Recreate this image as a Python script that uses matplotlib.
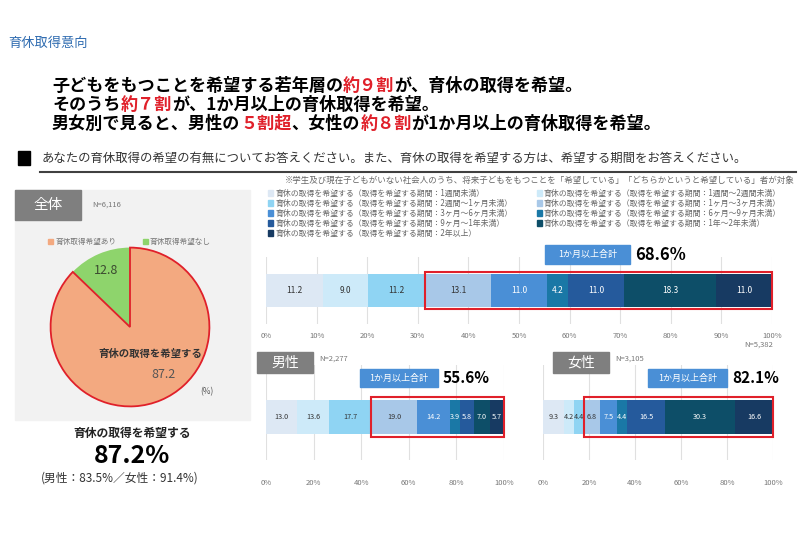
import numpy as np
import matplotlib
matplotlib.use('Agg')
import matplotlib.pyplot as plt
from matplotlib.patches import Rectangle

plt.rcParams['font.family'] = ['Noto Sans CJK JP', 'DejaVu Sans']

# ---- data ----
periods = ['1週間未満', '1週間～2週間未満', '2週間～1ヶ月未満', '1ヶ月～3ヶ月未満',
           '3ヶ月～6ヶ月未満', '6ヶ月～9ヶ月未満', '9ヶ月～1年未満', '1年～2年未満', '2年以上']
total_vals = [11.2, 9.0, 11.2, 13.1, 11.0, 4.2, 11.0, 18.3, 11.0]
male_vals = [13.0, 13.6, 17.7, 19.0, 14.2, 3.9, 5.8, 7.0, 5.7]
female_vals = [9.3, 4.2, 4.4, 6.8, 7.5, 4.4, 16.5, 30.3, 16.6]
over_1m = {'total': '68.6%', 'male': '55.6%', 'female': '82.1%'}
n_total, n_male, n_female, n_all = 'N=5,382', 'N=2,277', 'N=3,105', 'N=6,116'

pie_labels = ['育休取得希望なし', '育休取得希望あり']
pie_vals = [12.8, 87.2]

colors = ['#dde8f4', '#cdeaf9', '#8fd4f3', '#a8c8e8', '#4a8fd6',
          '#1a78a6', '#255a9c', '#0d4e68', '#173a62']
text_colors = ['#333333'] * 4 + ['white'] * 5
pie_colors = ['#8ed46c', '#f3a980']
box_blue = '#4a8fd6'
red = '#e0202a'

W, H = 800, 544
fig = plt.figure(figsize=(8, 5.44), dpi=100)
renderer = fig.canvas.get_renderer()


def fx(x):
    return x / W


def fy(y):
    return 1 - y / H


def rect_px(x0, y0, x1, y1, **kw):
    fig.patches.append(Rectangle((fx(x0), fy(y1)), (x1 - x0) / W, (y1 - y0) / H,
                                 transform=fig.transFigure, figure=fig, **kw))


def rich(x, y, parts, size):
    for s, c in parts:
        t = fig.text(fx(x), fy(y), s, fontsize=size, color=c, fontweight='bold', va='center')
        x += t.get_window_extent(renderer).width


# ---- header ----
fig.text(fx(8), fy(43), '育休取得意向', fontsize=9.5, color='#2e6bb0', va='center')
rich(52, 86, [('子どもをもつことを希望する若年層の', 'black'), ('約９割', red),
              ('が、育休の取得を希望。', 'black')], 12.3)
rich(52, 105, [('そのうち', 'black'), ('約７割', red),
               ('が、1か月以上の育休取得を希望。', 'black')], 12.3)
rich(52, 124, [('男女別で見ると、男性の', 'black'), ('５割超', red), ('、女性の', 'black'),
               ('約８割', red), ('が1か月以上の育休取得を希望。', 'black')], 12.3)

rect_px(18, 151, 30, 165, color='black')
fig.text(fx(42), fy(158), 'あなたの育休取得の希望の有無についてお答えください。また、育休の取得を希望する方は、希望する期間をお答えください。',
         fontsize=8.9, color='#333333', va='center')
fig.add_artist(plt.Line2D([fx(40), fx(796)], [fy(172), fy(172)], color='#404040', lw=1.5))
fig.text(fx(795), fy(180), '※学生及び現在子どもがいない社会人のうち、将来子どもをもつことを「希望している」「どちらかというと希望している」者が対象',
         fontsize=6.1, color='#666666', va='center', ha='right')

# ---- left panel: pie ----
rect_px(15, 190, 250, 420, color='#f2f2f2', zorder=-2)
rect_px(15, 190, 81, 220, color='#7f7f7f', zorder=-1)
fig.text(fx(48), fy(205), '全体', fontsize=10.5, color='white', ha='center', va='center')
fig.text(fx(92), fy(205), n_all, fontsize=5.5, color='#777777', va='center')
for xs, lab, c in [(48, pie_labels[1], pie_colors[1]), (143, pie_labels[0], pie_colors[0])]:
    rect_px(xs, 239, xs + 5, 244, color=c, zorder=-1)
    fig.text(fx(xs + 7), fy(242), lab, fontsize=5.5, color='#777777', va='center')

pax = fig.add_axes([fx(49), fy(408), 162 / W, 162 / H])
wedges, _ = pax.pie(pie_vals, colors=pie_colors, startangle=90, counterclock=True)
wedges[1].set_edgecolor(red)
wedges[1].set_linewidth(1.3)
pax.set_xlim(-1.02, 1.02)
pax.set_ylim(-1.02, 1.02)
pax.set_aspect('equal')
pax.axis('off')
fig.text(fx(106), fy(270), f'{pie_vals[0]:.1f}', fontsize=9, color='#3b4a30', ha='center', va='center')
fig.text(fx(150), fy(354), '育休の取得を希望する', fontsize=7.5, fontweight='bold', color='#333333',
         ha='center', va='center')
fig.text(fx(163), fy(374), f'{pie_vals[1]:.1f}', fontsize=9, color='#555555', ha='center', va='center')
fig.text(fx(207), fy(392), '(%)', fontsize=6, color='#555555', ha='center', va='center')

fig.text(fx(132), fy(433), '育休の取得を希望する', fontsize=8.5, fontweight='bold', color='#222222',
         ha='center', va='center')
fig.text(fx(132), fy(456), f'{pie_vals[1]:.1f}%', fontsize=18, fontweight='bold', color='black',
         ha='center', va='center')
fig.text(fx(120), fy(478), '(男性：83.5%／女性：91.4%)', fontsize=8.5, color='#333333',
         ha='center', va='center')

# ---- legend ----
leg_order = [0, 2, 4, 6, 8, 1, 3, 5, 7]
for k, i in enumerate(leg_order):
    col, row = (0, k) if k < 5 else (1, k - 5)
    x0 = 268 if col == 0 else 537
    y0 = 193 + row * 10
    rect_px(x0, y0 - 3, x0 + 5, y0 + 3, color=colors[i])
    fig.text(fx(x0 + 7), fy(y0), f'育休の取得を希望する（取得を希望する期間：{periods[i]}）',
             fontsize=5.7, color='#666666', va='center')


# ---- stacked bars ----
def stacked(left, right, top, bottom, vals, ybar, hbar, step, fs):
    ax = fig.add_axes([fx(left), fy(bottom), (right - left) / W, (bottom - top) / H])
    ax.set_xlim(0, 100)
    ax.set_ylim(0, 1)
    lefts = np.concatenate([[0], np.cumsum(vals)[:-1]])
    ax.barh(ybar, vals, left=lefts, height=hbar, color=colors, zorder=2)
    for l, v, tc in zip(lefts, vals, text_colors):
        ax.text(l + v / 2, ybar, f'{v:.1f}', ha='center', va='center', fontsize=fs, color=tc, zorder=4)
    start = lefts[3]
    ax.add_patch(Rectangle((start, ybar - hbar / 2 - 0.03), 100 - start, hbar + 0.06,
                           fill=False, edgecolor=red, lw=1.5, zorder=5, clip_on=False))
    ax.set_xticks(np.arange(0, 101, step))
    ax.set_xticklabels([f'{t}%' for t in np.arange(0, 101, step)], fontsize=5.5, color='#777777')
    ax.grid(axis='x', color='#e0e0e0', lw=0.8, zorder=0)
    ax.set_yticks([])
    ax.tick_params(axis='x', length=0)
    for s in ax.spines.values():
        s.set_visible(False)
    return ax


ax1 = stacked(266, 772, 257, 324, total_vals, 0.5, 0.5, 10, 6)
ax1.tick_params(axis='x', pad=6)
ax2 = stacked(266, 504, 365, 460, male_vals, 0.45, 0.36, 20, 5.2)
ax2.tick_params(axis='x', pad=14)
ax3 = stacked(543, 773, 365, 460, female_vals, 0.45, 0.36, 20, 5.2)
ax3.tick_params(axis='x', pad=14)

fig.text(fx(773), fy(345), n_total, fontsize=5.5, color='#777777', ha='right', va='center')


def sum_box(x0, y0, x1, y1, val, fs):
    rect_px(x0, y0, x1, y1, color=box_blue)
    fig.text(fx((x0 + x1) / 2), fy((y0 + y1) / 2), '1か月以上合計', fontsize=6.5, color='white',
             ha='center', va='center')
    fig.text(fx(x1 + 5), fy((y0 + y1) / 2), val, fontsize=fs, fontweight='bold', color='black', va='center')


sum_box(545, 245, 630, 264, over_1m['total'], 12)
sum_box(360, 369, 438, 387, over_1m['male'], 11)
sum_box(648, 369, 727, 387, over_1m['female'], 11)

for x0, lab, n in [(257, '男性', n_male), (553, '女性', n_female)]:
    rect_px(x0, 352, x0 + 56, 373, color='#7f7f7f')
    fig.text(fx(x0 + 28), fy(362.5), lab, fontsize=10, color='white', ha='center', va='center')
    fig.text(fx(x0 + 62), fy(359), n, fontsize=5.5, color='#777777', va='center')

fig.savefig('out.png', dpi=100, facecolor='white')
